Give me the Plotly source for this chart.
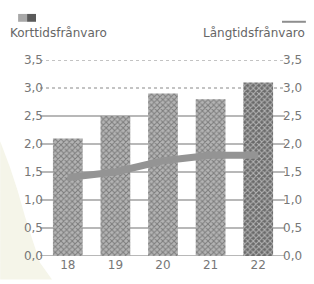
import plotly.graph_objects as go

years = ["18", "19", "20", "21", "22"]
korttid = [2.1, 2.5, 2.9, 2.8, 3.1]
langtid = [1.4, 1.5, 1.7, 1.8, 1.8]
y_ticks = [0.0, 0.5, 1.0, 1.5, 2.0, 2.5, 3.0, 3.5]
dotted_ticks = [3.0, 3.5]
label_short = "Korttidsfrånvaro"
label_long = "Långtidsfrånvaro"

bar_colors = ["#b4b4b4"] * 4 + ["#6a6a6a"]
bar_fg = ["#7c7c7c"] * 4 + ["#2e2e2e"]

FONT = "DejaVu Sans"
GRAY = "#777777"

fig = go.Figure()
fig.add_trace(go.Bar(
    x=years, y=korttid,
    marker=dict(color=bar_colors, line=dict(width=0),
                pattern=dict(shape="x", fgcolor=bar_fg, size=4, solidity=0.45)),
    showlegend=False, hoverinfo="skip",
))
fig.add_trace(go.Scatter(
    x=years, y=langtid, mode="lines", yaxis="y2",
    line=dict(color="#949494", width=7),
    showlegend=False, hoverinfo="skip",
))

shapes = []
shapes.append(dict(type="path", xref="paper", yref="paper", layer="below",
                   path=("M -0.1841,0.585 L -0.1423,0.45 L -0.1100,0.33 L -0.0795,0.2 "
                         "L -0.0480,0.08 L -0.0167,-0.035 L 0.0335,-0.12 L -0.1841,-0.12 Z"),
                   fillcolor="#f5f5e9", line=dict(width=0)))
for t in y_ticks:
    if t in dotted_ticks:
        shapes.append(dict(type="line", xref="paper", yref="y", x0=-0.0167, x1=1.0126, y0=t, y1=t,
                           layer="below", line=dict(color="#888888", width=1, dash="dot")))
    else:
        shapes.append(dict(type="line", xref="paper", yref="y", x0=-0.0167, x1=1.0126, y0=t, y1=t,
                           layer="below", line=dict(color="#a0a0a0", width=1.6)))
shapes.append(dict(type="rect", xref="paper", yref="paper", x0=-0.1088, x1=-0.0711,
                   y0=1.195, y1=1.235, fillcolor="#a8a8a8", line=dict(width=0)))
shapes.append(dict(type="rect", xref="paper", yref="paper", x0=-0.0711, x1=-0.0335,
                   y0=1.195, y1=1.235, fillcolor="#5a5a5a", line=dict(width=0)))
shapes.append(dict(type="line", xref="paper", yref="paper", x0=1.0, x1=1.1004,
                   y0=1.195, y1=1.195, line=dict(color="#8e8e8e", width=2)))

annotations = [
    dict(text=label_short, xref="paper", yref="paper", x=-0.1506, y=1.14,
         xanchor="left", yanchor="middle", showarrow=False,
         font=dict(family=FONT, size=12, color="#666666")),
    dict(text=label_long, xref="paper", yref="paper", x=1.1046, y=1.14,
         xanchor="right", yanchor="middle", showarrow=False,
         font=dict(family=FONT, size=12, color="#666666")),
]

axis_common = dict(range=[0, 3.5], tickvals=y_ticks, tickformat=".1f",
                   showgrid=False, zeroline=False, showline=False,
                   ticks="", ticklen=0,
                   tickfont=dict(family=FONT, size=12, color=GRAY), fixedrange=True)

fig.update_layout(
    width=314, height=284,
    margin=dict(l=44, r=31, t=60, b=24),
    paper_bgcolor="white", plot_bgcolor="rgba(0,0,0,0)",
    separators=", ",
    bargap=0.375,
    xaxis=dict(showgrid=False, zeroline=False, showline=False, ticks="",
               tickfont=dict(family=FONT, size=12, color=GRAY), range=[-0.5, 4.5],
               fixedrange=True),
    yaxis=dict(**axis_common, side="left"),
    yaxis2=dict(**axis_common, side="right", overlaying="y"),
    shapes=shapes,
    annotations=annotations,
)

fig.write_html("out.html", config={"displayModeBar": False},
               post_script="document.body.style.margin='0';")
